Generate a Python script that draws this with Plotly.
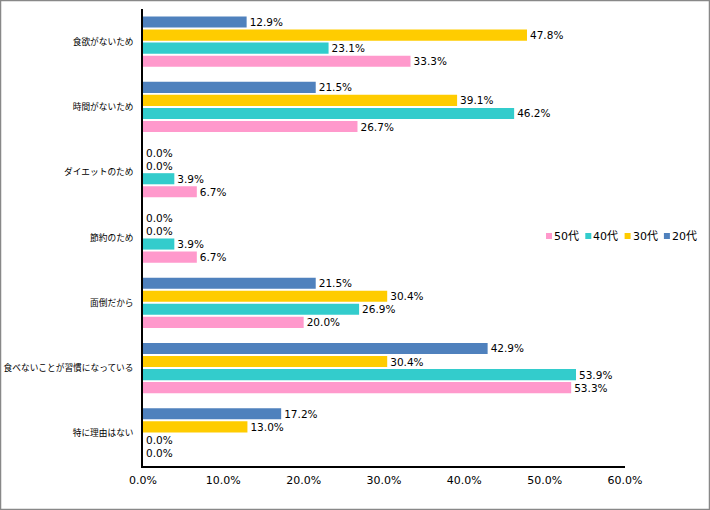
import plotly.graph_objects as go

categories = ["食欲がないため", "時間がないため", "ダイエットのため", "節約のため",
              "面倒だから", "食べないことが習慣になっている", "特に理由はない"]
series_names = ["20代", "30代", "40代", "50代"]
v20 = [12.9, 21.5, 0.0, 0.0, 21.5, 42.9, 17.2]
v30 = [47.8, 39.1, 0.0, 0.0, 30.4, 30.4, 13.0]
v40 = [23.1, 46.2, 3.9, 3.9, 26.9, 53.9, 0.0]
v50 = [33.3, 26.7, 6.7, 6.7, 20.0, 53.3, 0.0]
colors = ["#4F81BD", "#FFCC00", "#33CCCC", "#FF99CC"]

W, H = 710, 510
L, R, T, B = 143, 85, 9, 44
pw, ph = W - L - R, H - T - B


def px_x(p):
    return (p - L) / pw


def px_y(p):
    return 1 - (p - T) / ph


fig = go.Figure()
for name, vals, c in zip(series_names, [v20, v30, v40, v50], colors):
    fig.add_trace(go.Bar(
        y=categories, x=vals, name=name, orientation="h",
        marker=dict(color=c, line=dict(width=0)),
        text=vals, texttemplate="%{x:.1f}%", textposition="outside",
        constraintext="none",
        textfont=dict(family="DejaVu Sans", size=10.5, color="black"),
        cliponaxis=False, showlegend=False,
    ))

# custom compact legend (reversed order like the reference)
shapes = [dict(type="rect", xref="paper", yref="paper",
               x0=px_x(0.5), x1=px_x(W - 0.5),
               y0=px_y(H - 0.5), y1=px_y(0.5),
               line=dict(color="#888888", width=1.5), layer="below")]
annotations = []
leg_x0, leg_pitch, leg_y = 546, 39.3, 236
for i, (name, c) in enumerate(zip(series_names[::-1], colors[::-1])):
    x0 = leg_x0 + i * leg_pitch
    shapes.append(dict(type="rect", xref="paper", yref="paper",
                       x0=px_x(x0), x1=px_x(x0 + 6),
                       y0=px_y(leg_y + 3), y1=px_y(leg_y - 3),
                       fillcolor=c, line=dict(width=0)))
    annotations.append(dict(xref="paper", yref="paper", x=px_x(x0 + 6),
                            y=px_y(leg_y), xanchor="left", yanchor="middle",
                            text=name, showarrow=False,
                            font=dict(family="DejaVu Sans, Noto Sans CJK JP",
                                      size=11, color="black")))

fig.update_layout(
    width=W, height=H,
    margin=dict(l=L, r=R, t=T, b=B, autoexpand=False),
    paper_bgcolor="white", plot_bgcolor="white",
    barmode="group", bargap=0.2, bargroupgap=0.15,
    font=dict(family="DejaVu Sans", size=11, color="black"),
    showlegend=False,
    xaxis=dict(range=[0, 60], dtick=10, tickformat=".1f", ticksuffix="%",
               showgrid=False, zeroline=False, showline=True,
               linecolor="black", linewidth=1.5, ticks="",
               ticklabelstandoff=3, automargin=False,
               tickfont=dict(family="DejaVu Sans", size=11)),
    yaxis=dict(autorange="reversed", showgrid=False, zeroline=False,
               showline=True, linecolor="black", linewidth=1.5, ticks="",
               ticklabelstandoff=6, automargin=False,
               tickfont=dict(family="Noto Sans CJK JP", size=8.7)),
    shapes=shapes,
    annotations=annotations,
)

fig.write_html("out.html",
               config={"displayModeBar": False},
               post_script="document.body.style.margin='0';"
                           "document.body.style.overflow='hidden';")
